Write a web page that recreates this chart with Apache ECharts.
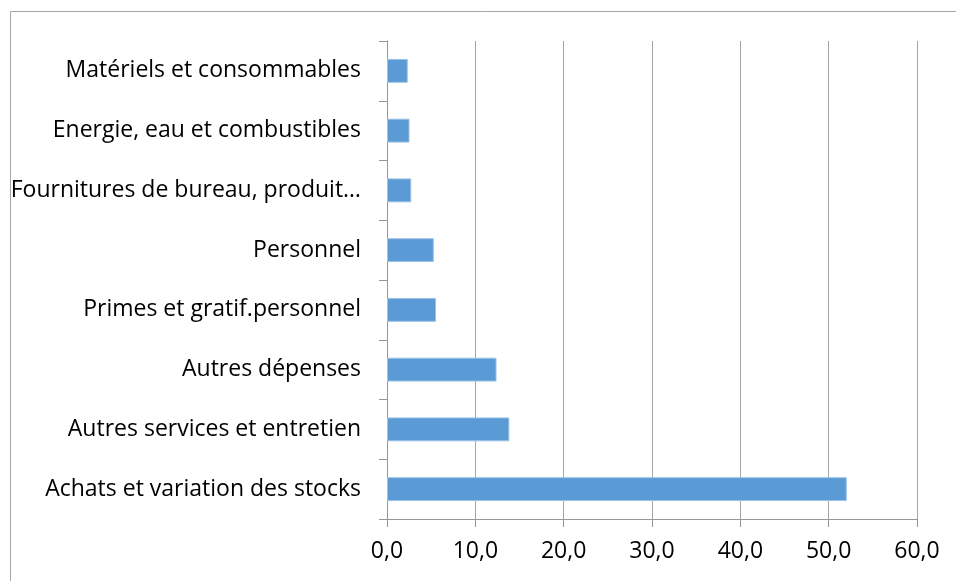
<!DOCTYPE html>
<html>
<head>
<meta charset="utf-8">
<script src="https://cdn.jsdelivr.net/npm/echarts@6/dist/echarts.min.js"></script>
<style>html,body{margin:0;padding:0;background:#fff}#c{width:956px;height:581px}</style>
</head>
<body>
<div id="c"></div>
<script>
const categories = [
  'Achats et variation des stocks',
  'Autres services et entretien',
  'Autres dépenses',
  'Primes et gratif.personnel',
  'Personnel',
  'Fournitures de bureau, produit…',
  'Energie, eau et combustibles',
  'Matériels et consommables'
];
const values = [52.05, 13.85, 12.4, 5.55, 5.3, 2.75, 2.55, 2.35];
const xTicks = { min: 0, max: 60, interval: 10 };

const font = '"Open Sans", "Noto Sans", sans-serif';
const chart = echarts.init(document.getElementById('c'));
chart.setOption({
  animation: false,
  graphic: [{
    type: 'rect', silent: true,
    shape: { x: 10.5, y: 11.5, width: 1000, height: 1000 },
    style: { fill: 'none', stroke: '#a6a6a6', lineWidth: 1 }
  }],
  grid: { left: 387, right: 39, top: 41, bottom: 62, containLabel: false },
  xAxis: {
    type: 'value', min: xTicks.min, max: xTicks.max, interval: xTicks.interval,
    axisLine: { show: true, lineStyle: { color: '#969696', width: 1 } },
    axisTick: { show: true, length: 8, lineStyle: { color: '#969696' } },
    splitLine: { show: true, lineStyle: { color: '#a6a6a6', width: 1 } },
    axisLabel: { color: '#000', fontSize: 23, fontFamily: font, margin: 21,
      formatter: v => v.toFixed(1).replace('.', ',') }
  },
  yAxis: {
    type: 'category', data: categories,
    axisLine: { show: true, lineStyle: { color: '#969696', width: 1 } },
    axisTick: { show: true, length: 8, lineStyle: { color: '#969696' } },
    axisLabel: { color: '#000', fontSize: 23, fontFamily: font, margin: 26 }
  },
  series: [{
    type: 'bar', data: values, barCategoryGap: '60%',
    itemStyle: { color: '#5b9bd5', borderColor: '#9dc3e6', borderWidth: 1 }
  }]
});
</script>
</body>
</html>
